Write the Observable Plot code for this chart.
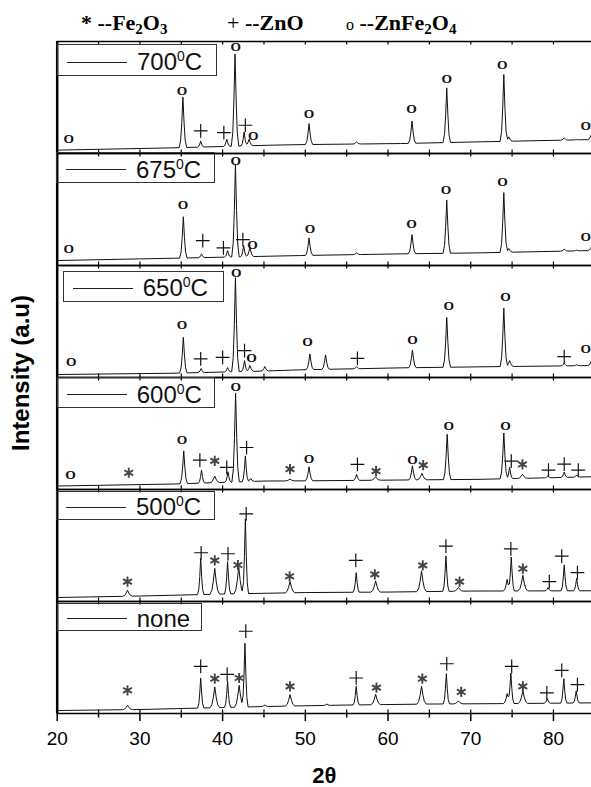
<!DOCTYPE html>
<html>
<head>
<meta charset="utf-8">
<script src="https://cdn.jsdelivr.net/npm/d3@7"></script>
<script src="https://cdn.jsdelivr.net/npm/@observablehq/plot@0.6"></script>
<style>
  body { margin: 0; background: #fff; }
  #wrap { position: relative; width: 591px; height: 787px; overflow: hidden; background: #fff; }
  #chart svg { display: block; }
  .phase { position: absolute; top: 11.6px; font-family: "Liberation Serif", "Times New Roman", serif; font-weight: bold; font-size: 22px; line-height: 22px; white-space: nowrap; color: #000; }
  .phase sub { font-size: 15px; vertical-align: -4px; line-height: 0; }
  .phase .sym { font-weight: normal; }
  .lg { position: absolute; box-sizing: border-box; border: 1px solid #333; display: flex; align-items: center; padding-top: 4px;
        font-family: "Liberation Sans", Arial, sans-serif; font-size: 24px; line-height: 1; white-space: nowrap; color: #111; }
  .lg .ln { width: 60px; height: 0; border-top: 1.2px solid #222; margin-left: 9px; margin-right: 10px; }
  .lg sup { font-size: 14px; vertical-align: 9px; line-height: 0; }
</style>
</head>
<body>
<div id="wrap">
  <div id="chart"></div>
</div>
<script>
// ---------------- data (2θ in degrees, intensity in a.u.; each panel spans 0–112.6 a.u.) ----------------
const samples = ["700", "675", "650", "600", "500", "none"];
const xTicks = [20, 30, 40, 50, 60, 70, 80];
const xMinorTicks = [25, 35, 45, 55, 65, 75];

// baseline readings [2θ, intensity]
const base700 = [[20, 3.4], [34, 5.7], [46, 8.4], [50, 9], [61.5, 10], [71, 11.7], [84.6, 14]];
const base675 = [[20, 5], [34, 7.3], [49.4, 10], [61.5, 11.7], [71, 12.7], [84.6, 15]];
const base650 = [[20, 3], [34, 4.3], [45, 6.5], [49.4, 7.7], [61.5, 9.7], [71, 10.7], [84.6, 12]];
const base600 = [[20, 3.5], [34, 5.5], [45, 8.5], [50, 8.7], [61, 9.5], [71, 10.2], [84.6, 12.8]];
const base500 = [[20, 4], [30, 5.5], [40, 7.5], [50, 9], [60, 9.5], [70, 10.5], [84.6, 10.8]];
const baseNone = [[20, 3], [30, 4], [40, 6], [45, 7], [55, 8.5], [65, 9.5], [75, 10], [84.6, 10.7]];

// peaks [2θ, peak-top intensity, phase]  (* Fe2O3, + ZnO, o ZnFe2O4, "" unassigned)
const peaks700 = [[35.2, 56.7, "o"], [37.35, 12.4, "+"], [40.5, 14.4, "+"], [41.5, 100, "o"], [42.6, 21.7, "+"],
  [43.2, 14.4, "o"], [50.45, 30, "o"], [56.2, 11.7, ""], [62.9, 32.7, "o"], [67.1, 66, "o"], [74.0, 79.4, "o"],
  [74.6, 16.7, ""], [81.3, 15.7, ""], [82.8, 14, ""], [84.6, 19.4, "o"]];
const peaks675 = [[35.25, 49, "o"], [37.45, 11.7, "+"], [40.6, 15, "+"], [41.55, 101.7, "o"], [42.55, 20, "+"],
  [43.3, 18.3, "o"], [50.45, 27.7, "o"], [56.2, 12.7, ""], [62.9, 31, "o"], [67.1, 65.7, "o"], [74.0, 73.3, "o"],
  [74.6, 17, ""], [81.3, 16.5, ""], [82.8, 15.5, ""], [84.6, 19, "o"]];
const peaks650 = [[35.25, 40.3, "o"], [37.4, 9, "+"], [40.6, 10, "+"], [41.55, 100.3, "o"], [42.65, 17, "+"],
  [43.3, 12, "o"], [45.1, 11, ""], [50.55, 23.7, "o"], [52.45, 22.7, ""], [56.2, 11, "+"], [62.95, 27.7, "o"],
  [67.1, 60.3, "o"], [74.0, 69.7, "o"], [74.7, 17, ""], [81.3, 14.7, "+"], [82.8, 12.7, ""], [84.6, 17, "o"]];
const peaks600 = [[35.3, 38.8, "o"], [37.45, 19.5, "+"], [39.05, 13.5, "*"], [40.65, 17.8, "+"], [41.57, 96.8, "o"],
  [42.75, 33.8, "+"], [43.4, 11, ""], [48.15, 10.5, "*"], [50.45, 22.8, "o"], [56.2, 15.2, "+"], [58.5, 12.8, "*"],
  [62.95, 23.8, "o"], [64.1, 16.2, "*"], [67.15, 55.5, "o"], [74.0, 56.8, "o"], [74.7, 22.2, "+"], [76.25, 15.2, "*"],
  [79.3, 13.5, "+"], [81.3, 17.5, "+"], [82.8, 14.5, "+"]];
const peaks500 = [[28.5, 11.3, "*"], [37.35, 43.3, "+"], [39.05, 33.3, "*"], [40.6, 40, "+"], [41.95, 34.7, "*"],
  [42.75, 83, "+"], [48.15, 20, "*"], [56.15, 29, "+"], [58.5, 20.7, "*"], [64.05, 30.7, "*"], [67.0, 45.7, "+"],
  [68.5, 14, "*"], [74.4, 22.3, ""], [74.9, 44.7, "+"], [76.3, 26.3, "*"], [79.35, 14, "+"], [81.3, 36.7, "+"],
  [82.8, 23, "+"]];
const peaksNone = [[28.5, 8.3, "*"], [37.35, 35.7, "+"], [39.05, 26.7, "*"], [40.6, 32.3, "+"], [42.0, 28.3, "*"],
  [42.7, 70.7, "+"], [45.1, 8.5, ""], [48.15, 19, "*"], [52.6, 9.5, ""], [56.15, 27.3, "+"], [58.5, 19.3, "*"],
  [64.05, 27.3, "*"], [67.05, 40, "+"], [68.5, 12.7, "*"], [74.4, 20, ""], [74.85, 40.7, "+"], [76.3, 22.7, "*"],
  [79.25, 15, "+"], [81.25, 35, "+"], [82.75, 22.7, "+"]];

// phase markers [symbol, 2θ, intensity]
const marks700 = [["o", 21.4, 15], ["o", 35.1, 62.7], ["+", 37.35, 22.7], ["+", 40.15, 21], ["o", 41.6, 107.4],
  ["+", 42.75, 28.4], ["o", 43.7, 17.7], ["o", 50.45, 40], ["o", 62.85, 45], ["o", 67.1, 75.7], ["o", 73.8, 89],
  ["o", 83.9, 28.4]];
const marks675 = [["o", 21.4, 17.3], ["o", 35.2, 61], ["+", 37.6, 25], ["+", 40.1, 17.7], ["o", 41.6, 105.7],
  ["+", 42.45, 26], ["o", 43.6, 20.7], ["o", 50.55, 37.3], ["o", 62.85, 42.3], ["o", 67.0, 76], ["o", 73.85, 84],
  ["o", 83.9, 29]];
const marks650 = [["o", 21.7, 16], ["o", 35.1, 52.7], ["+", 37.35, 18.7], ["+", 40.0, 20.3], ["o", 41.65, 105.3],
  ["+", 42.65, 27], ["o", 43.5, 20.3], ["o", 50.25, 36], ["+", 56.3, 19.3], ["o", 62.95, 38], ["o", 67.35, 72.7],
  ["o", 74.2, 81.3], ["+", 81.3, 21], ["o", 83.9, 29.3]];
const marks600 = [["o", 21.6, 14.5], ["*", 28.65, 16.8], ["o", 35.1, 50.5], ["+", 37.25, 29.5], ["*", 39.05, 28.8],
  ["+", 40.5, 22.2], ["o", 41.6, 103.5], ["+", 42.9, 42.2], ["*", 48.15, 20.5], ["o", 50.45, 30.5], ["+", 56.3, 25.2],
  ["*", 58.55, 18.5], ["o", 62.95, 30.2], ["*", 64.25, 24.5], ["o", 67.35, 63.8], ["o", 74.2, 63.8], ["+", 74.9, 28.5],
  ["*", 76.25, 25.2], ["+", 79.4, 19.5], ["+", 81.3, 25.5], ["+", 83.0, 19.5]];
const marks500 = [["*", 28.5, 20], ["+", 37.4, 49], ["*", 39.05, 41.3], ["+", 40.65, 48], ["*", 41.85, 36.7],
  ["+", 42.85, 88], ["*", 48.1, 25.3], ["+", 56.1, 41.3], ["*", 58.4, 27.3], ["*", 64.2, 36.3], ["+", 67.0, 55.6],
  ["*", 68.65, 20], ["+", 74.85, 53], ["*", 76.3, 33], ["+", 79.5, 20], ["+", 81.0, 45.6], ["+", 82.9, 29]];
const marksNone = [["*", 28.5, 23.3], ["+", 37.35, 47.3], ["*", 39.05, 35], ["+", 40.55, 39.3], ["*", 42.0, 35.7],
  ["+", 42.8, 82.7], ["*", 48.15, 27.3], ["+", 56.15, 35.7], ["*", 58.6, 26], ["*", 64.15, 35], ["+", 67.1, 50],
  ["*", 68.85, 21.7], ["+", 74.95, 47.3], ["*", 76.3, 27.3], ["+", 79.2, 20.7], ["+", 81.0, 43.3], ["+", 82.9, 29]];

// ---------------- build tables for Plot ----------------
const X_DOMAIN = [20, 84.6];
const PANEL = 112.6;
const halfWidth = {"+": 0.38, "o": 0.45, "*": 0.58, "": 0.45};
const shape = d3.scaleLinear().domain([0, 0.3, 0.6, 1]).range([1, 0.5, 0.15, 0]).clamp(true);
const offsets = [-1, -0.6, -0.3, 0, 0.3, 0.6, 1];

const panels = [
  {sample: "700", base: base700, peaks: peaks700, marks: marks700},
  {sample: "675", base: base675, peaks: peaks675, marks: marks675},
  {sample: "650", base: base650, peaks: peaks650, marks: marks650},
  {sample: "600", base: base600, peaks: peaks600, marks: marks600},
  {sample: "500", base: base500, peaks: peaks500, marks: marks500},
  {sample: "none", base: baseNone, peaks: peaksNone, marks: marksNone}
];

const lineData = [];
const markData = [];
for (const p of panels) {
  const base = d3.scaleLinear().domain(p.base.map(d => d[0])).range(p.base.map(d => d[1])).clamp(true);
  const pk = p.peaks.map(([x, top, ph]) => ({x, a: top - base(x), w: halfWidth[ph]}));
  const xs = new Set(p.base.map(d => d[0]));
  for (const q of pk) for (const o of offsets) {
    const v = +(q.x + o * q.w).toFixed(4);
    if (v >= X_DOMAIN[0] && v <= X_DOMAIN[1]) xs.add(v);
  }
  for (const x of [...xs].sort(d3.ascending)) {
    const y = base(x) + d3.sum(pk, q => Math.abs(x - q.x) < q.w ? q.a * shape(Math.abs(x - q.x) / q.w) : 0);
    lineData.push({sample: p.sample, x, y});
  }
  for (const [type, x, y] of p.marks) markData.push({sample: p.sample, type, x, y});
}

const innerTicks = [25, 30, 35, 40, 45, 50, 55, 60, 65, 70, 75, 80];

const chart = Plot.plot({
  width: 591,
  height: 787,
  marginLeft: 56.7,
  marginRight: 0,
  marginTop: 39.3,
  marginBottom: 72,
  style: {fontFamily: "Liberation Sans, Arial, sans-serif", fontSize: "19px", background: "transparent", color: "#000", overflow: "visible"},
  x: {domain: X_DOMAIN},
  y: {domain: [0, PANEL], axis: null},
  fy: {domain: samples, padding: 0, axis: null},
  marks: [
    Plot.line(lineData, {x: "x", y: "y", fy: "sample", z: "sample", stroke: "#111", strokeWidth: 1}),
    Plot.dot(markData.filter(d => d.type === "+"), {x: "x", y: "y", fy: "sample", symbol: "plus", r: 4.5, stroke: "#111", strokeWidth: 1.2}),
    Plot.dot(markData.filter(d => d.type === "*"), {x: "x", y: "y", fy: "sample", symbol: "asterisk", r: 4.8, stroke: "#444", strokeWidth: 1.9}),
    Plot.text(markData.filter(d => d.type === "o"), {x: "x", y: "y", fy: "sample", text: () => "O", fontFamily: "Liberation Serif, Times New Roman, serif", fontWeight: "bold", fontSize: 13.5, lineAnchor: "middle", fill: "#111"}),
    Plot.ruleY([0, PANEL], {stroke: "#000", strokeWidth: 1.6}),
    Plot.ruleX([20], {stroke: "#000", strokeWidth: 2.5}),
    Plot.ruleX(innerTicks, {x: d => d, y1: 0, y2: 3.5, stroke: "#000", strokeWidth: 1.2}),
    Plot.ruleX(innerTicks, {x: d => d, y1: PANEL - 3.5, y2: PANEL, stroke: "#000", strokeWidth: 1.2}),
    Plot.axisX({ticks: xTicks, tickSize: 8, tickPadding: 10, label: null, strokeWidth: 1.5, fontSize: 19}),
    Plot.axisX({ticks: xMinorTicks, tickSize: 4.5, tickFormat: () => "", label: null, strokeWidth: 1.5}),
    Plot.text([{fy: "none"}], {fy: "fy", frameAnchor: "bottom", text: () => "2θ", dy: 62, lineAnchor: "middle",
      fontWeight: "bold", fontSize: 22, fontFamily: "Liberation Sans, Arial, sans-serif"}),
    Plot.text([{fy: "600"}], {fy: "fy", frameAnchor: "top-left", text: () => "Intensity (a.u)", rotate: -90, dx: -36, dy: -4.5,
      textAnchor: "middle", lineAnchor: "middle", fontWeight: "bold", fontSize: 24, fontFamily: "Liberation Sans, Arial, sans-serif"})
  ]
});

const wrap = document.getElementById("wrap");
document.getElementById("chart").append(chart);

// phase key above the chart
const phaseKey = [
  [81, '* --Fe<sub>2</sub>O<sub>3</sub>'],
  [227, '<span class="sym">+</span> --ZnO'],
  [346, '<span class="sym" style="font-size:16px">o</span> --ZnFe<sub>2</sub>O<sub>4</sub>']
];
for (const [left, html] of phaseKey) {
  const d = document.createElement("div");
  d.className = "phase";
  d.style.left = left + "px";
  d.innerHTML = html;
  wrap.append(d);
}

// per-panel legend boxes [left, top, width, height]
const legendLayout = [
  [57, 44, 160, 32],
  [56, 152.3, 159, 30.5],
  [62.7, 270.7, 161.5, 31.6],
  [56.7, 377.3, 158.5, 31],
  [56, 490.5, 159, 29.5],
  [56.7, 602.8, 145, 28]
];
samples.forEach((s, i) => {
  const [l, t, w, h] = legendLayout[i];
  const d = document.createElement("div");
  d.className = "lg";
  Object.assign(d.style, {left: l + "px", top: t + "px", width: w + "px", height: h + "px"});
  const label = s === "none" ? "none" : `${s}<sup>0</sup>C`;
  d.innerHTML = `<span class="ln"></span><span>${label}</span>`;
  wrap.append(d);
});
</script>
</body>
</html>
